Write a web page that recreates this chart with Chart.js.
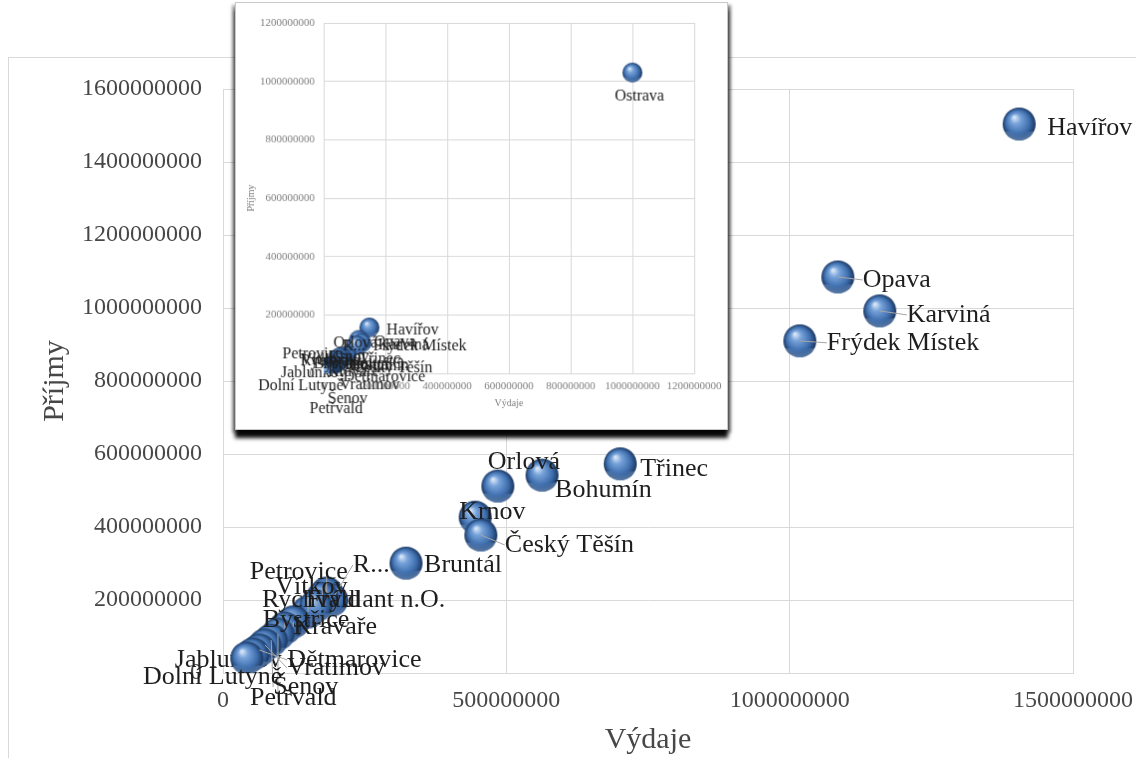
<!DOCTYPE html>
<html lang="cs">
<head>
<meta charset="utf-8">
<title>Příjmy a výdaje měst</title>
<script src="https://cdn.jsdelivr.net/npm/chart.js@4/dist/chart.umd.min.js"></script>
<style>
  html, body { margin: 0; padding: 0; background: #fff; }
  #hlavni { position: absolute; left: 0; top: 0; }
  #prehled {
    position: absolute; left: 235px; top: 2px;
    background: #fff;
    border: 1px solid #c8c8c8;
    box-shadow: 0 8px 4px rgba(0,0,0,0.95), -3px 3px 3px rgba(0,0,0,0.35), 3px 3px 3px rgba(0,0,0,0.45);
  }
</style>
</head>
<body>
<canvas id="hlavni" width="1136" height="758"></canvas>
<canvas id="prehled" width="493" height="428"></canvas>
<script>
// Města bez Ostravy – výdaje a příjmy (Kč)
const mesta = ['Havířov', 'Opava', 'Karviná', 'Frýdek Místek', 'Třinec', 'Bohumín', 'Orlová', 'Krnov',
  'Český Těšín', 'Bruntál', 'Petrovice', 'R...', 'Vítkov', 'Rychvald', 'Frýdlant n.O.', 'Kravaře',
  'Bystřice', 'Petřvald', 'Šenov', 'Vratimov', 'Dětmarovice', 'Dolní Lutyně', 'Jablunkov'];
const vydaje = [1405000000, 1085000000, 1159000000, 1018000000, 701000000, 563000000, 485000000, 445000000,
  455000000, 323000000, 183000000, 192000000, 175000000, 150000000, 164000000, 124000000,
  109000000, 97000000, 85000000, 74000000, 64000000, 53000000, 42000000];
const prijmy = [1504000000, 1085000000, 992000000, 910000000, 573000000, 542000000, 512000000, 427000000,
  378000000, 301000000, 219000000, 200000000, 205000000, 167000000, 184000000, 140000000,
  123000000, 107000000, 90000000, 77000000, 63000000, 52000000, 41000000];

// Přehled všech měst včetně Ostravy
const prehledMesta = ['Ostrava', 'Havířov', 'Opava', 'Karviná', 'Frýdek Místek', 'Třinec', 'Bohumín', 'Orlová',
  'Krnov', 'Český Těšín', 'Bruntál', 'Petrovice', 'R...', 'Vítkov', 'Rychvald', 'Frýdlant n.O.', 'Kravaře',
  'Bystřice', 'Petřvald', 'Šenov', 'Vratimov', 'Dětmarovice', 'Dolní Lutyně', 'Jablunkov'];
const prehledVydaje = [1000000000, 148000000, 114000000, 122000000, 107000000, 74000000, 59000000, 51000000,
  47000000, 48000000, 34000000, 19000000, 20000000, 18000000, 16000000, 17000000, 13000000,
  11000000, 10000000, 9000000, 8000000, 7000000, 6000000, 4000000];
const prehledPrijmy = [1030000000, 157000000, 114000000, 104000000, 96000000, 60000000, 57000000, 54000000,
  45000000, 40000000, 32000000, 23000000, 21000000, 22000000, 18000000, 19000000, 15000000,
  13000000, 11000000, 9000000, 8000000, 7000000, 5000000, 4000000];

// Osy
const osaX = [0, 500000000, 1000000000, 1500000000];
const osaY = [0, 200000000, 400000000, 600000000, 800000000, 1000000000, 1200000000, 1400000000, 1600000000];
const prehledOsa = [0, 200000000, 400000000, 600000000, 800000000, 1000000000, 1200000000];

const PISMO = '"Liberation Serif", "Times New Roman", serif';

// Posun popisků vůči bodu (v pixelech pro písmo 26 px)
const umisteni = {
  'Ostrava': [-29, 39], 'Havířov': [28, 4], 'Opava': [25, 3], 'Karviná': [27, 4], 'Frýdek Místek': [27, 2],
  'Třinec': [20, 5], 'Bohumín': [13, 15], 'Orlová': [-10, -24], 'Krnov': [-16, -5], 'Český Těšín': [24, 10],
  'Bruntál': [18, 2], 'Petrovice': [-77, -21], 'R...': [21, -35], 'Vítkov': [-47, -11], 'Rychvald': [-46, -12],
  'Frýdlant n.O.': [-10, -6], 'Bystřice': [-22, -8], 'Kravaře': [0, 5], 'Dětmarovice': [28, 10],
  'Vratimov': [22, 23], 'Jablunkov': [-72, 2], 'Dolní Lutyně': [-110, 23], 'Šenov': [2, 47], 'Petřvald': [-28, 64]
};
const vodici = ['Opava', 'Karviná', 'Frýdek Místek', 'Český Těšín', 'Petrovice', 'R...', 'Vítkov', 'Rychvald',
  'Frýdlant n.O.', 'Bystřice', 'Kravaře', 'Dětmarovice', 'Vratimov', 'Šenov', 'Petřvald'];
const podBody = ['Jablunkov'];

// Kulička jako obrázek bodu
function koule(r) {
  const s = Math.ceil(r * 2 + 2);
  const c = document.createElement('canvas');
  c.width = s; c.height = s;
  const g = c.getContext('2d');
  const cx = s / 2, cy = s / 2;
  const grad = g.createRadialGradient(cx - r * 0.3, cy - r * 0.42, r * 0.04, cx, cy, r);
  grad.addColorStop(0, '#dbe8f8');
  grad.addColorStop(0.28, '#78a3da');
  grad.addColorStop(0.7, '#3f6fae');
  grad.addColorStop(1, '#1b365f');
  g.fillStyle = grad;
  g.beginPath(); g.arc(cx, cy, r, 0, Math.PI * 2); g.fill();
  const rim = g.createRadialGradient(cx, cy - r * 0.2, r * 0.75, cx, cy - r * 0.2, r * 1.2);
  rim.addColorStop(0, 'rgba(140,180,230,0)');
  rim.addColorStop(1, 'rgba(140,180,230,0.55)');
  g.save();
  g.beginPath(); g.arc(cx, cy, r, 0.15 * Math.PI, 0.85 * Math.PI); g.closePath();
  g.clip();
  g.fillStyle = rim;
  g.beginPath(); g.arc(cx, cy, r, 0, Math.PI * 2); g.fill();
  g.restore();
  return c;
}

function kresliPopisky(chart, opts, pod) {
  const ctx = chart.ctx;
  const meta = chart.getDatasetMeta(0);
  const nazvy = chart.data.datasets[0].nazvy;
  const k = opts.velikost / 26;
  ctx.save();
  ctx.font = opts.velikost + 'px ' + PISMO;
  ctx.textBaseline = 'middle';
  ctx.textAlign = 'left';
  meta.data.forEach((bod, i) => {
    const nazev = nazvy[i];
    if (podBody.includes(nazev) !== pod) return;
    const p = umisteni[nazev] || [18, 0];
    const tx = bod.x + p[0] * k, ty = bod.y + p[1] * k;
    const w = ctx.measureText(nazev).width;
    if (opts.cary && vodici.includes(nazev)) {
      const ex = Math.min(Math.max(bod.x, tx), tx + w);
      ctx.strokeStyle = '#a6a6a6';
      ctx.lineWidth = 1;
      ctx.beginPath(); ctx.moveTo(bod.x, bod.y); ctx.lineTo(ex, ty); ctx.stroke();
    }
    ctx.fillStyle = '#1e1e1e';
    ctx.fillText(nazev, tx, ty);
  });
  ctx.restore();
}

const popisky = {
  id: 'popisky',
  beforeDatasetsDraw(chart, args, opts) { kresliPopisky(chart, opts, true); },
  afterDatasetsDraw(chart, args, opts) { kresliPopisky(chart, opts, false); }
};

const ramecek = {
  id: 'ramecek',
  beforeDraw(chart, args, opts) {
    const ctx = chart.ctx;
    ctx.save();
    ctx.fillStyle = '#fff';
    ctx.fillRect(0, 0, chart.width, chart.height);
    if (opts.zobrazit) {
      ctx.strokeStyle = '#d9d9d9';
      ctx.lineWidth = 1;
      ctx.strokeRect(8.5, 57.5, chart.width + 10, chart.height + 10);
    }
    ctx.restore();
  }
};

function osa(hodnoty) {
  return {
    type: 'linear', min: hodnoty[0], max: hodnoty[hodnoty.length - 1],
    afterBuildTicks(s) { s.ticks = hodnoty.map(v => ({ value: v })); },
    grid: { color: '#d9d9d9', lineWidth: 1, drawTicks: false },
    border: { color: '#d9d9d9' }
  };
}

function nastaveni(opt) {
  const x = osa(opt.osaX);
  x.ticks = { callback: v => String(v), font: { family: PISMO, size: opt.tick }, color: opt.barva,
    padding: opt.padX, maxRotation: 0, autoSkip: false };
  x.title = { display: true, text: 'Výdaje', font: { family: PISMO, size: opt.titul }, color: opt.barva,
    padding: { top: 0, bottom: opt.titulX } };
  x.afterFit = s => { s.height = opt.vyskaX; s.paddingLeft = 0; s.paddingRight = 0; };
  const y = osa(opt.osaY);
  y.ticks = { callback: v => String(v), font: { family: PISMO, size: opt.tick }, color: opt.barva,
    padding: opt.padY, autoSkip: false };
  y.title = { display: true, text: 'Příjmy', font: { family: PISMO, size: opt.titul }, color: opt.barva,
    padding: { top: opt.titulY, bottom: 0 } };
  y.afterFit = s => { s.width = opt.sirkaY; s.paddingTop = 0; s.paddingBottom = 0; };
  return {
    type: 'scatter',
    data: {
      datasets: [{
        nazvy: opt.nazvy,
        data: opt.xs.map((v, i) => ({ x: v, y: opt.ys[i] })),
        pointStyle: koule(opt.r),
        pointRadius: opt.r,
        pointHoverRadius: opt.r
      }]
    },
    options: {
      responsive: false,
      animation: false,
      events: [],
      layout: { padding: opt.padding },
      scales: { x, y },
      plugins: {
        legend: { display: false },
        tooltip: { enabled: false },
        popisky: { velikost: opt.popisek, cary: opt.cary },
        ramecek: { zobrazit: opt.ramecek }
      }
    },
    plugins: [ramecek, popisky]
  };
}

new Chart(document.getElementById('hlavni'), nastaveni({
  nazvy: mesta, xs: vydaje, ys: prijmy, osaX, osaY,
  r: 16.5, tick: 24, titul: 30, barva: '#474747', popisek: 26, cary: true, ramecek: true,
  padX: 13, padY: 21, titulX: 0, titulY: 37, vyskaX: 85, sirkaY: 223,
  padding: { top: 89, right: 63, left: 0, bottom: 0 }
}));

new Chart(document.getElementById('prehled'), nastaveni({
  nazvy: prehledMesta, xs: prehledVydaje, ys: prehledPrijmy, osaX: prehledOsa, osaY: prehledOsa,
  r: 10, tick: 11, titul: 10, barva: '#7f7f7f', popisek: 16, cary: false, ramecek: false,
  padX: 7, padY: 9, titulX: 20, titulY: 9, vyskaX: 56, sirkaY: 88,
  padding: { top: 20, right: 33, left: 0, bottom: 0 }
}));
</script>
</body>
</html>
